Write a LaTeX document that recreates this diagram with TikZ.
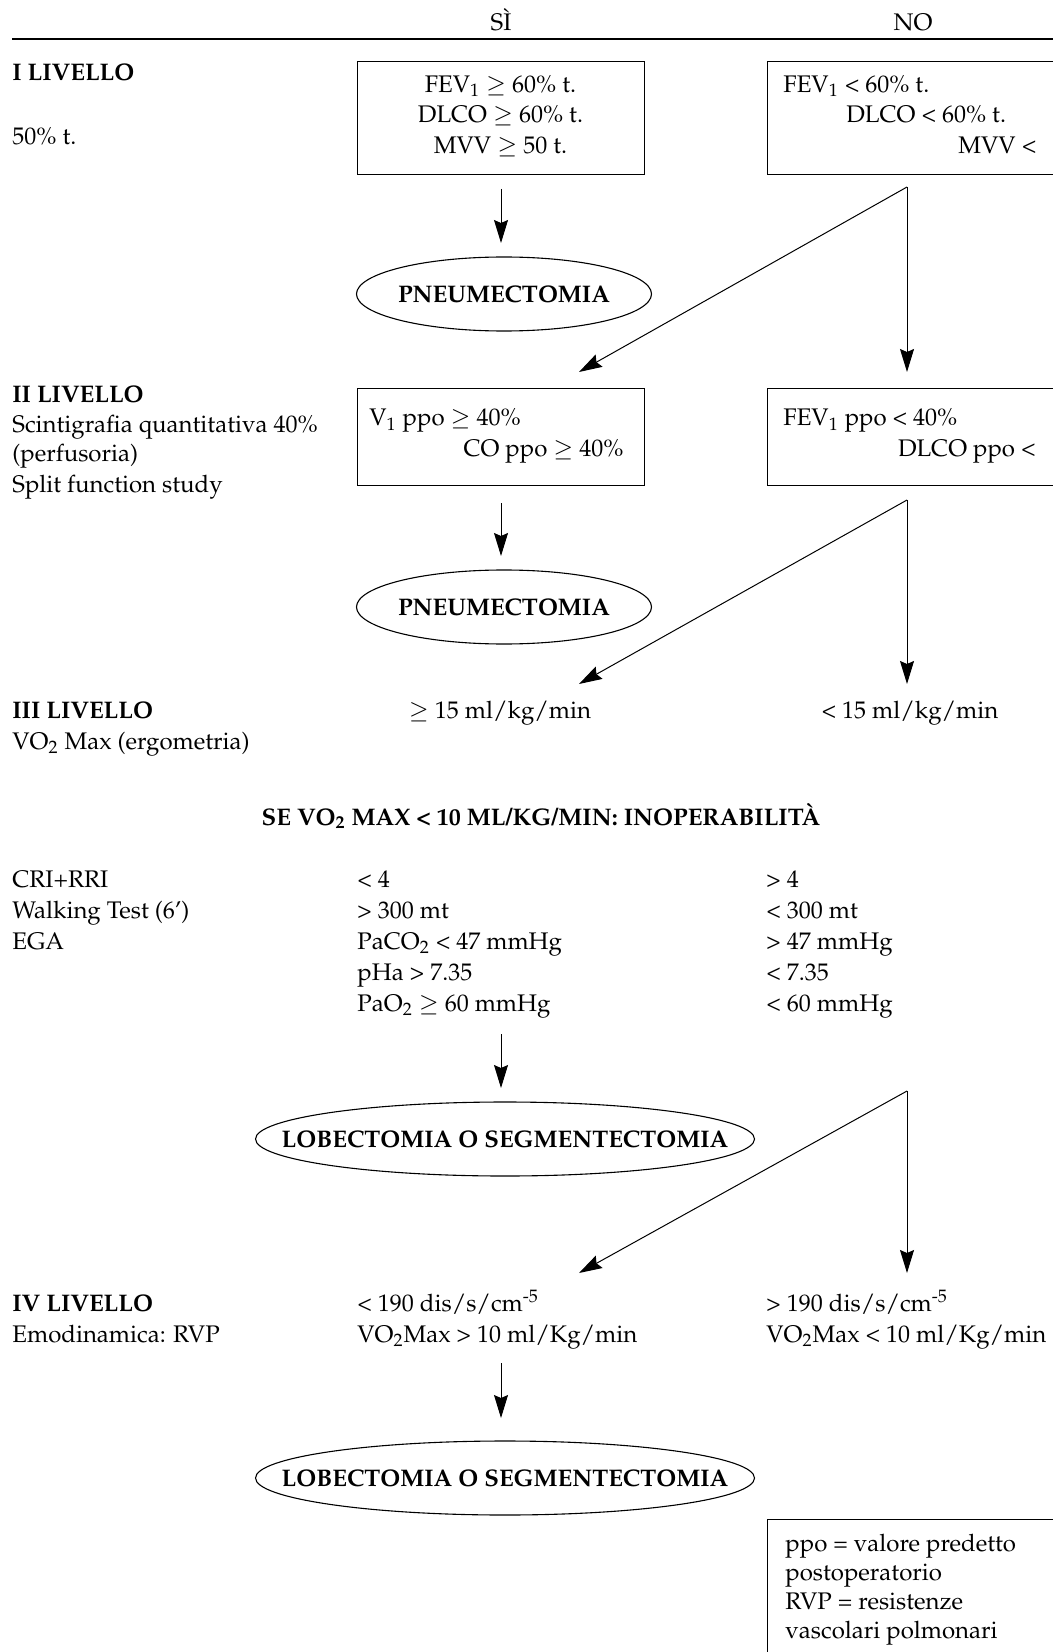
\documentclass[tikz,border=0pt]{standalone}
\usepackage[T1]{fontenc}
\usepackage{mathpazo}
\usetikzlibrary{shapes.geometric,arrows.meta}

\begin{document}
\begin{tikzpicture}[x=0.5pt,y=-0.5pt,
  every node/.style={inner sep=0pt,font=\fontsize{12pt}{14pt}\selectfont},
  txtL/.style={anchor=base west},
  txtR/.style={anchor=base east},
  txtC/.style={anchor=base},
  hd/.style={anchor=base west,font=\fontsize{12pt}{14pt}\selectfont\bfseries},
  boxn/.style={draw,line width=0.65pt,anchor=north west},
  ovaltxt/.style={font=\fontsize{12pt}{14pt}\selectfont\bfseries},
  ovalline/.style={line width=0.55pt},
  arr/.style={line width=0.5pt,-{Stealth[length=11.5pt,width=7pt,inset=1.5pt]}}
]
\useasboundingbox (0,0) rectangle (1053,1652);
\clip (0,0) rectangle (1053,1652);

% column headings and rule
\node[txtC] (si) at (501,31) {S\`I};
\node[txtC] (no) at (913,31) {NO};
\draw[line width=0.6pt] (12,39) -- (1060,39);

% ---------- level I ----------
\node[hd] (l1) at (12,81) {I LIVELLO};
\node[txtL] (l1a) at (12,145) {50\% t.};

\node[boxn,minimum width=143.5pt,minimum height=56.5pt] (b1) at (357,61) {};
\node[txtC] (b1a) at (500.5,92.5) {FEV\textsubscript{1} $\geq$ 60\% t.};
\node[txtC] (b1b) at (500.5,123) {DLCO $\geq$ 60\% t.};
\node[txtC] (b1c) at (500.5,153.5) {MVV $\geq$ 50 t.};

\node[boxn,minimum width=152pt,minimum height=56.5pt] (b2) at (767,61) {};
\node[txtL] (b2a) at (783,92.5) {FEV\textsubscript{1} < 60\% t.};
\node[txtL] (b2b) at (846,123) {DLCO < 60\% t.};
\node[txtL] (b2c) at (958,153.5) {MVV <};

\node[ovaltxt] (e1) at (504,294) {PNEUMECTOMIA};
\draw[ovalline] (e1.center) ellipse [x radius=73.75pt, y radius=18.5pt];

\coordinate (a1s) at (501,189);
\coordinate (a1e) at (501,243);
\draw[arr] (a1s) -- (a1e);

\coordinate (f1) at (907,187);
\coordinate (f1l) at (579,372);
\coordinate (f1r) at (907,372);
\draw[arr] (f1) -- (f1l);
\draw[arr] (f1) -- (f1r);

% ---------- level II ----------
\node[hd] (l2) at (12,403) {II LIVELLO};
\node[txtL] (l2a) at (12,432) {Scintigrafia quantitativa 40\%};
\node[txtL] (l2b) at (12,461) {(perfusoria)};
\node[txtL] (l2c) at (12,492) {Split function study};

\node[boxn,minimum width=143.5pt,minimum height=48.5pt] (b3) at (357,388) {};
\node[txtL] (b3a) at (369,426) {V\textsubscript{1} ppo $\geq$ 40\%};
\node[txtR] (b3b) at (624,457) {CO ppo $\geq$ 40\%};

\node[boxn,minimum width=152pt,minimum height=48.5pt] (b4) at (767,388) {};
\node[txtL] (b4a) at (783,426) {FEV\textsubscript{1} ppo < 40\%};
\node[txtR] (b4b) at (1036,457) {DLCO ppo <};

\node[ovaltxt] (e2) at (504,607) {PNEUMECTOMIA};
\draw[ovalline] (e2.center) ellipse [x radius=73.75pt, y radius=18.5pt];

\coordinate (a2s) at (501,503);
\coordinate (a2e) at (501,556);
\draw[arr] (a2s) -- (a2e);

\coordinate (f2) at (907,500);
\coordinate (f2l) at (579,684);
\coordinate (f2r) at (907,684);
\draw[arr] (f2) -- (f2l);
\draw[arr] (f2) -- (f2r);

% ---------- level III ----------
\node[hd] (l3) at (12,718) {III LIVELLO};
\node[txtL] (l3a) at (12,749) {VO\textsubscript{2} Max (ergometria)};
\node[txtC] (v3a) at (500,718) {$\geq$ 15 ml/kg/min};
\node[txtC] (v3b) at (910,718) {< 15 ml/kg/min};

\node[txtC,font=\fontsize{12pt}{14pt}\selectfont\bfseries] (warn) at (541,825)
  {SE VO\textsubscript{2} MAX < 10 ML/KG/MIN: INOPERABILIT\`A};

\node[txtL] (r1) at (12,887) {CRI+RRI};
\node[txtL] (r2) at (12,918) {Walking Test (6')};
\node[txtL] (r3) at (12,949) {EGA};

\node[txtL] (m1) at (357,887) {< 4};
\node[txtL] (m2) at (357,918) {> 300 mt};
\node[txtL] (m3) at (357,949) {PaCO\textsubscript{2} < 47 mmHg};
\node[txtL] (m4) at (357,980) {pHa > 7.35};
\node[txtL] (m5) at (357,1011) {PaO\textsubscript{2} $\geq$ 60 mmHg};

\node[txtL] (n1) at (766,887) {> 4};
\node[txtL] (n2) at (766,918) {< 300 mt};
\node[txtL] (n3) at (766,949) {> 47 mmHg};
\node[txtL] (n4) at (766,980) {< 7.35};
\node[txtL] (n5) at (766,1011) {< 60 mmHg};

\node[ovaltxt] (e3) at (505,1139) {LOBECTOMIA O SEGMENTECTOMIA};
\draw[ovalline] (e3.center) ellipse [x radius=124.75pt, y radius=18.5pt];

\coordinate (a3s) at (501,1034);
\coordinate (a3e) at (501,1088);
\draw[arr] (a3s) -- (a3e);

\coordinate (f3) at (907,1091);
\coordinate (f3l) at (579,1273);
\coordinate (f3r) at (907,1273);
\draw[arr] (f3) -- (f3l);
\draw[arr] (f3) -- (f3r);

% ---------- level IV ----------
\node[hd] (l4) at (12,1311) {IV LIVELLO};
\node[txtL] (l4a) at (12,1342) {Emodinamica: RVP};
\node[txtL] (p1) at (357,1311) {< 190 dis/s/cm\textsuperscript{-5}};
\node[txtL] (p2) at (357,1342) {VO\textsubscript{2}Max > 10 ml/Kg/min};
\node[txtL] (q1) at (766,1311) {> 190 dis/s/cm\textsuperscript{-5}};
\node[txtL] (q2) at (766,1342) {VO\textsubscript{2}Max < 10 ml/Kg/min};

\node[ovaltxt] (e4) at (505,1478) {LOBECTOMIA O SEGMENTECTOMIA};
\draw[ovalline] (e4.center) ellipse [x radius=124.75pt, y radius=18.5pt];

\coordinate (a4s) at (501,1363);
\coordinate (a4e) at (501,1418);
\draw[arr] (a4s) -- (a4e);

% ---------- legend ----------
\node[boxn,minimum width=152pt,minimum height=80pt] (leg) at (767,1519) {};
\node[txtL] (g1) at (785,1551) {ppo = valore predetto};
\node[txtL] (g2) at (785,1580) {postoperatorio};
\node[txtL] (g3) at (785,1609) {RVP = resistenze};
\node[txtL] (g4) at (785,1638) {vascolari polmonari};
\end{tikzpicture}
\end{document}
